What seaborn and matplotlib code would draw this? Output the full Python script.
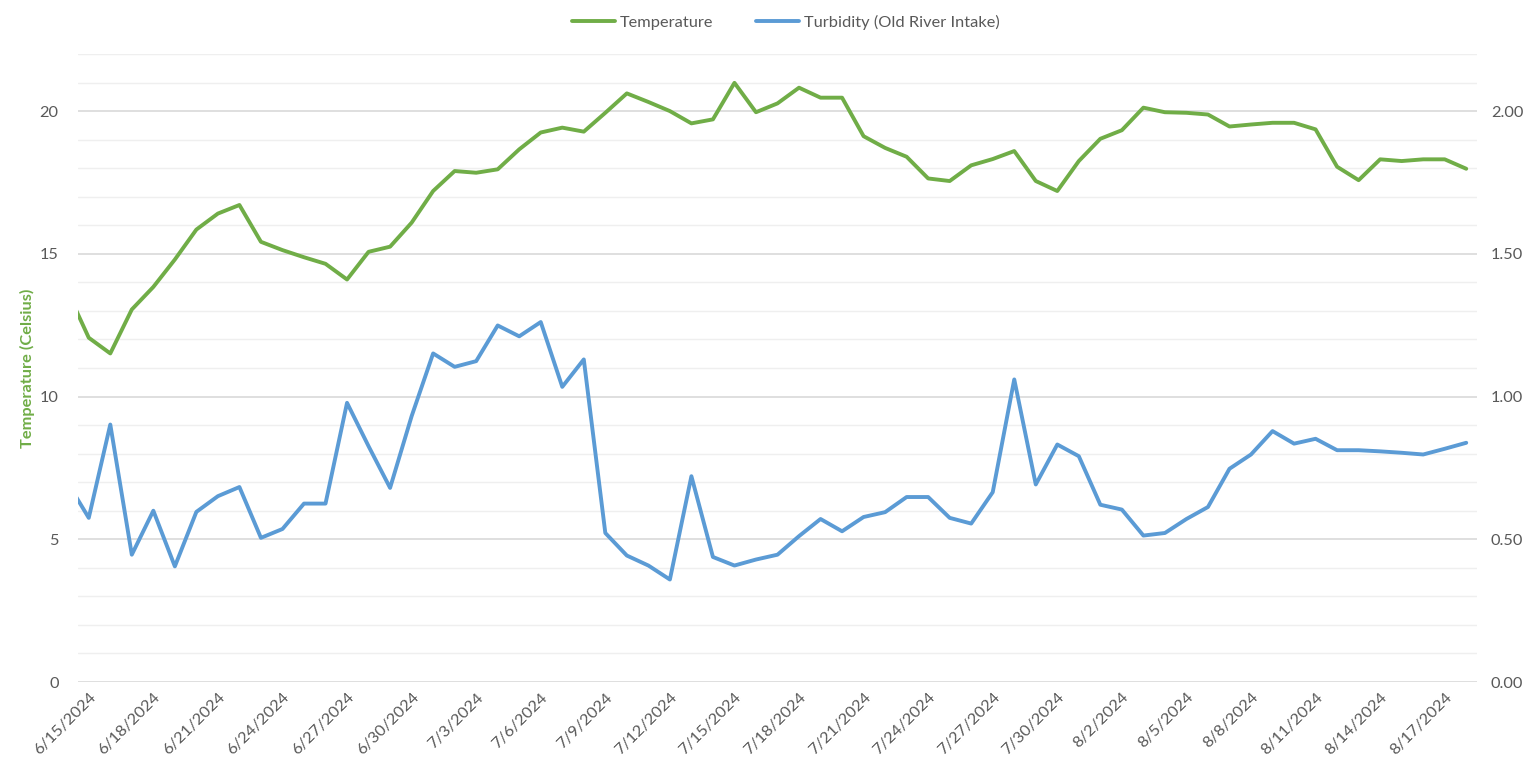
import numpy as np
import pandas as pd
import matplotlib
matplotlib.use("Agg")
import matplotlib.pyplot as plt
import matplotlib.dates as mdates
import seaborn as sns

# ---- data (daily readings; first value is 6/14, partly outside the axis) ----
start_date = "2024-06-14"
temperature = [13.7,
    12.06, 11.51, 13.05, 13.84, 14.8, 15.85, 16.41, 16.71, 15.42, 15.13,
    14.88, 14.65, 14.10, 15.07, 15.25, 16.09, 17.2, 17.9, 17.84, 17.96,
    18.66, 19.25, 19.42, 19.28, 19.94, 20.62, 20.32, 20.0, 19.57, 19.71,
    20.99, 19.96, 20.27, 20.82, 20.47, 20.47, 19.12, 18.71, 18.40, 17.64,
    17.55, 18.10, 18.32, 18.60, 17.55, 17.20, 18.25, 19.03, 19.33, 20.12,
    19.96, 19.94, 19.88, 19.46, 19.53, 19.59, 19.59, 19.36, 18.05, 17.58,
    18.31, 18.25, 18.31, 18.31, 17.98]
turbidity = [0.70,
    0.575, 0.902, 0.446, 0.600, 0.405, 0.596, 0.651, 0.683, 0.505, 0.536,
    0.625, 0.625, 0.978, 0.826, 0.680, 0.931, 1.151, 1.104, 1.124, 1.249,
    1.211, 1.261, 1.034, 1.130, 0.522, 0.443, 0.408, 0.359, 0.721, 0.438,
    0.408, 0.429, 0.446, 0.511, 0.571, 0.528, 0.578, 0.595, 0.648, 0.648,
    0.575, 0.555, 0.665, 1.060, 0.692, 0.832, 0.791, 0.621, 0.604, 0.513,
    0.522, 0.571, 0.613, 0.747, 0.797, 0.879, 0.835, 0.852, 0.812, 0.812,
    0.808, 0.803, 0.797, 0.817, 0.838]
temp_ticks = [0, 5, 10, 15, 20]
turb_ticks = [0.0, 0.5, 1.0, 1.5, 2.0]
series_names = ["Temperature", "Turbidity (Old River Intake)"]
y_label = "Temperature (Celsius)"

dates = pd.date_range(start_date, periods=len(temperature), freq="D")
df = pd.DataFrame({"date": dates, "temp": temperature, "turb": turbidity})

GREEN = "#70AD47"
BLUE = "#5B9BD5"
TXT = "#595959"

sns.set_theme(style="white")
plt.rcParams["font.family"] = ["Lato", "DejaVu Sans"]

fig = plt.figure(figsize=(15.29, 7.67), dpi=100)
ax = fig.add_axes([78 / 1529, 1 - 682 / 767, (1477 - 78) / 1529, (682 - 54) / 767])
ax2 = ax.twinx()

sns.lineplot(data=df, x="date", y="temp", ax=ax, color=GREEN, linewidth=2.8,
             label=series_names[0], legend=False)
sns.lineplot(data=df, x="date", y="turb", ax=ax2, color=BLUE, linewidth=2.8,
             label=series_names[1], legend=False)

x0 = pd.Timestamp("2024-06-15") - pd.Timedelta(hours=12)
x1 = dates[-1] + pd.Timedelta(hours=12)
ax.set_xlim(x0, x1)
ax.set_ylim(0, 22)
ax2.set_ylim(0, 2.2)

# gridlines
ax.set_yticks(temp_ticks)
ax.set_yticks(np.arange(0, 23, 1), minor=True)
ax.grid(False)
ax2.grid(False)
ax.yaxis.grid(True, which="minor", color="#efefef", linewidth=1.0)
ax.yaxis.grid(True, which="major", color="#d9d9d9", linewidth=1.2)
ax.set_axisbelow(True)

ax2.set_yticks(turb_ticks)
ax2.set_yticklabels([f"{v:.2f}" for v in turb_ticks])

tick_dates = pd.date_range("2024-06-15", dates[-1], freq="3D")
ax.set_xticks(tick_dates)
ax.set_xticklabels([f"{d.month}/{d.day}/{d.year}" for d in tick_dates],
                   rotation=45, ha="right", rotation_mode="anchor")

for a in (ax, ax2):
    for s in a.spines.values():
        s.set_visible(False)
    a.tick_params(length=0, colors=TXT, labelsize=11.8)
ax.tick_params(axis="y", which="both", length=0, pad=14)
ax2.tick_params(axis="y", pad=10)
ax.tick_params(axis="x", pad=6)

ax.set_xlabel("")
ax2.set_ylabel("")
ax.set_ylabel(y_label, color=GREEN, fontsize=11.8, fontweight="bold", labelpad=3)

h1, l1 = ax.get_legend_handles_labels()
h2, l2 = ax2.get_legend_handles_labels()
fig.legend(h1 + h2, l1 + l2, loc="upper center", bbox_to_anchor=(0.514, 1.0),
           ncol=2, frameon=False, fontsize=11.8, labelcolor=TXT,
           handlelength=2.6, columnspacing=2.6, handletextpad=0.3)

fig.savefig("out.png", dpi=100, facecolor="white")
